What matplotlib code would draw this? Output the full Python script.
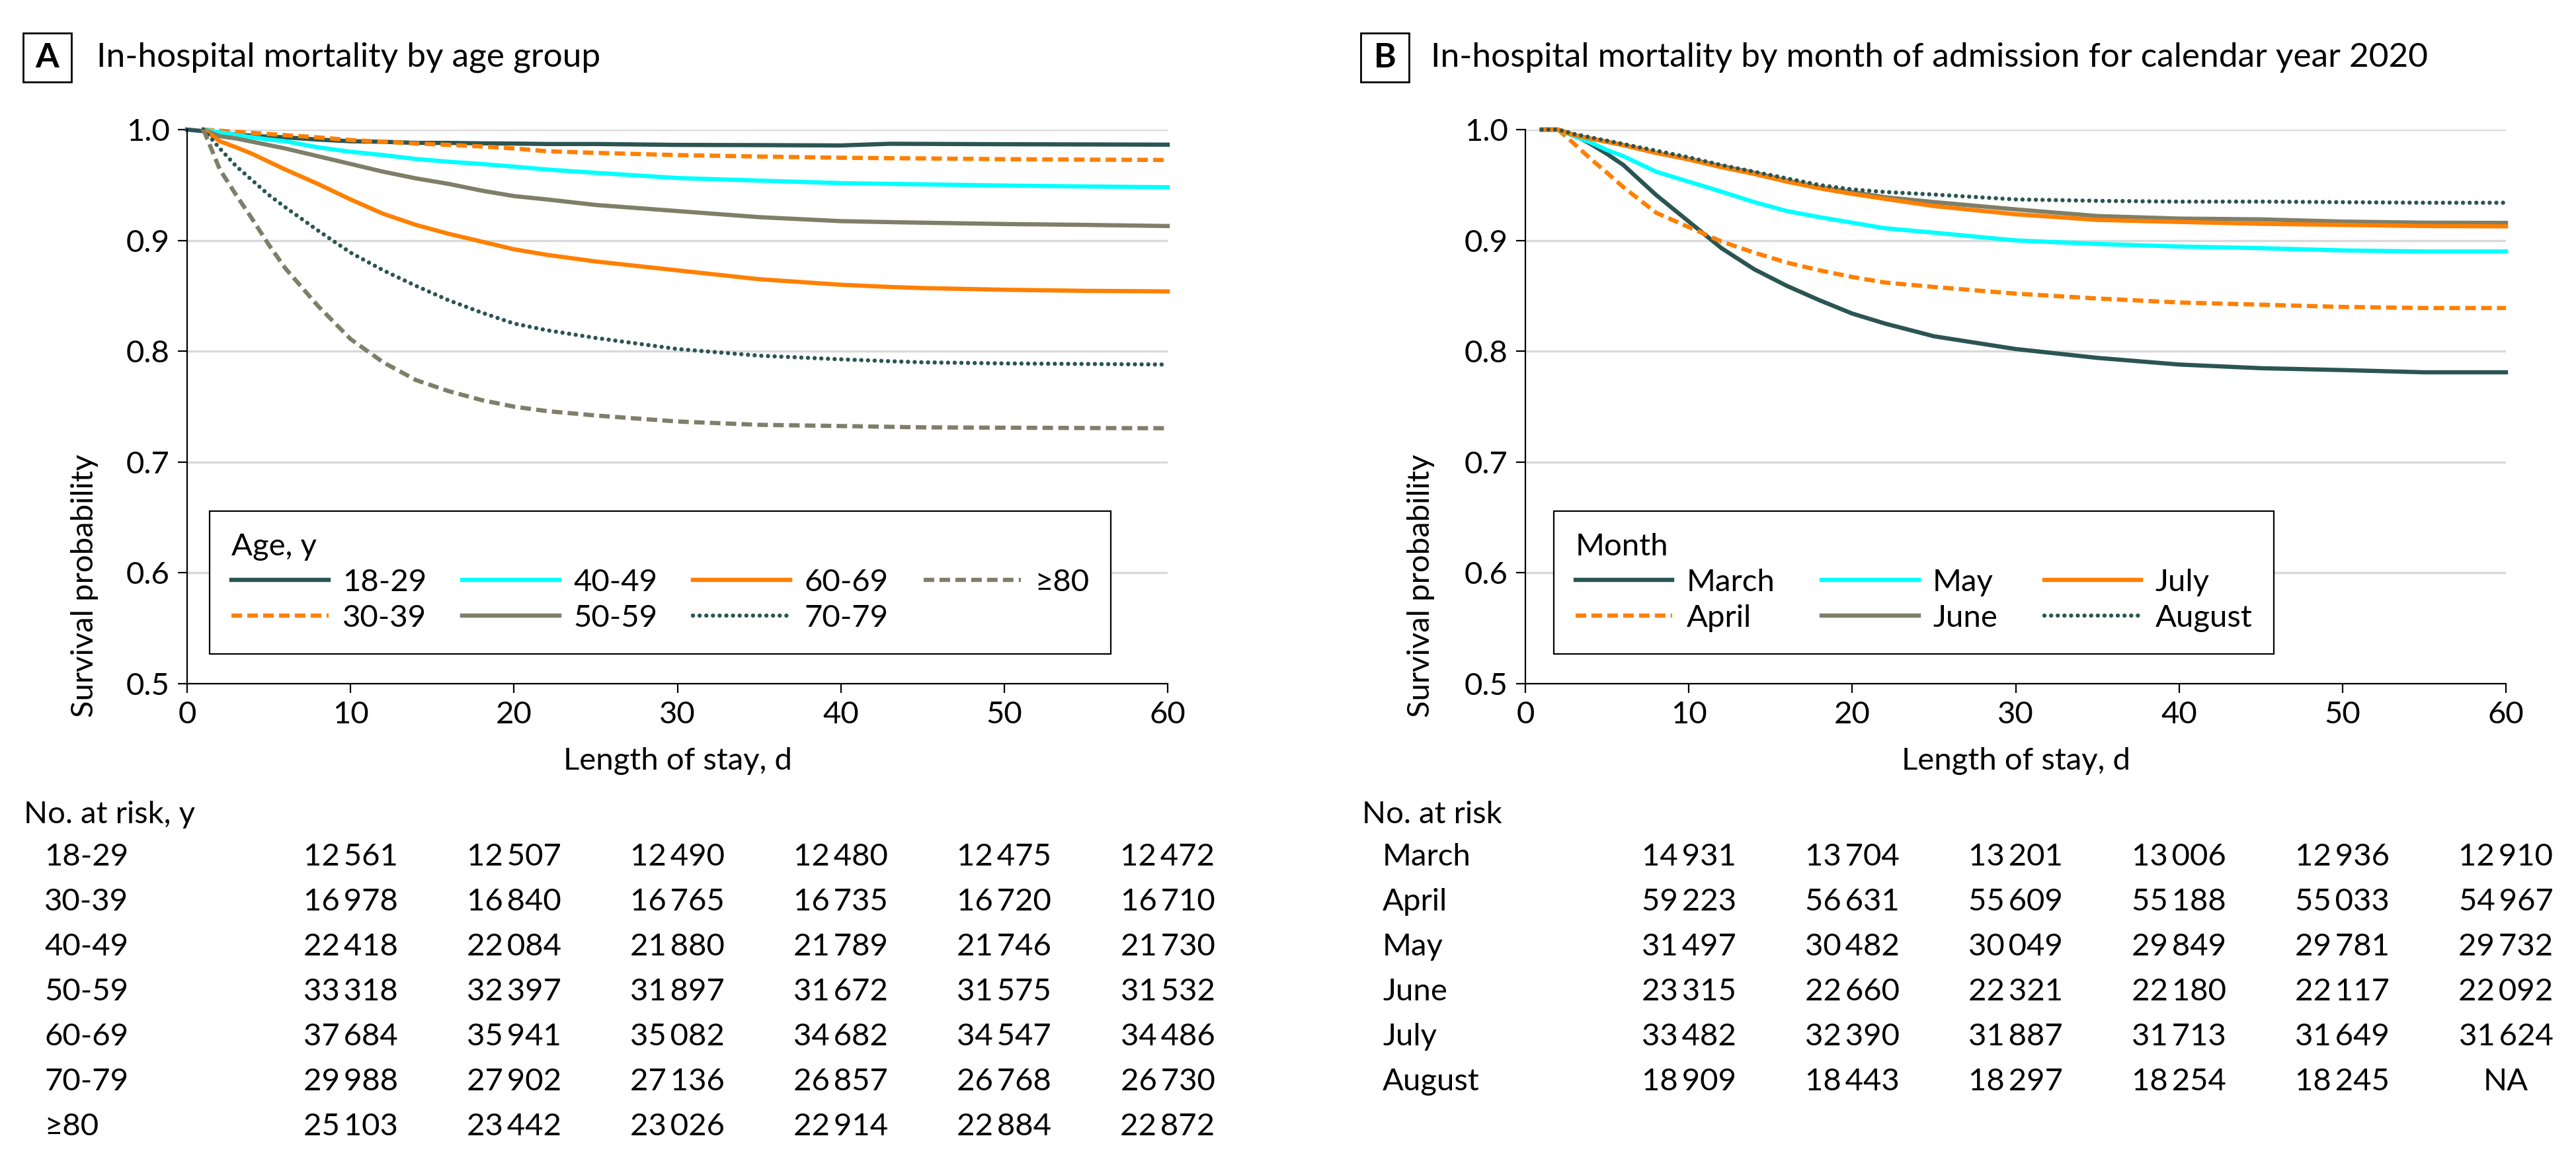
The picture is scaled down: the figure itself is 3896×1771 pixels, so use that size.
import matplotlib
matplotlib.use("Agg")
import matplotlib.pyplot as plt
import matplotlib.transforms as mtransforms
from matplotlib.patches import Rectangle
import numpy as np

plt.rcParams['font.family'] = ['Lato', 'DejaVu Sans']

# ---- data: panel A, survival by age group ----
days_a = [0, 1, 2, 3, 4, 5, 6, 8, 10, 12, 14, 16, 18, 20, 22, 25, 30, 35, 40, 43, 45, 50, 55, 60]
age_groups = ['18-29', '30-39', '40-49', '50-59', '60-69', '70-79', '≥80']
surv_18_29 = [1.0, 0.9986, 0.997, 0.9955, 0.9945, 0.9935, 0.993, 0.991, 0.9895, 0.989, 0.988, 0.988,
              0.9876, 0.9874, 0.987, 0.987, 0.9862, 0.986, 0.9857, 0.9872, 0.9871, 0.9868, 0.9866,
              0.9864]
surv_30_39 = [np.nan, 1.0, 0.999, 0.998, 0.997, 0.996, 0.995, 0.993, 0.9906, 0.989, 0.9875, 0.9862,
              0.9848, 0.983, 0.9805, 0.979, 0.977, 0.9757, 0.9746, 0.9742, 0.974, 0.9733, 0.9729,
              0.9726]
surv_40_49 = [np.nan, 1.0, 0.9975, 0.995, 0.993, 0.991, 0.9895, 0.984, 0.980, 0.977, 0.9735, 0.971,
              0.969, 0.9666, 0.964, 0.961, 0.9563, 0.954, 0.9517, 0.951, 0.9506, 0.9495, 0.9487,
              0.948]
surv_50_59 = [np.nan, 1.0, 0.994, 0.992, 0.989, 0.986, 0.983, 0.976, 0.969, 0.962, 0.956, 0.951,
              0.945, 0.940, 0.937, 0.932, 0.9265, 0.921, 0.9174, 0.9165, 0.916, 0.9148, 0.914,
              0.913]
surv_60_69 = [np.nan, 1.0, 0.9895, 0.984, 0.978, 0.971, 0.964, 0.951, 0.937, 0.924, 0.914, 0.906,
              0.899, 0.892, 0.887, 0.881, 0.873, 0.865, 0.860, 0.858, 0.857, 0.8555, 0.8545, 0.854]
surv_70_79 = [np.nan, 1.0, 0.983, 0.967, 0.954, 0.941, 0.930, 0.909, 0.889, 0.873, 0.859, 0.846,
              0.835, 0.825, 0.819, 0.812, 0.802, 0.796, 0.7927, 0.791, 0.790, 0.789, 0.7885, 0.788]
surv_80 = [np.nan, 1.0, 0.964, 0.941, 0.919, 0.896, 0.875, 0.841, 0.811, 0.790, 0.774, 0.764,
           0.756, 0.750, 0.746, 0.742, 0.7366, 0.7336, 0.7325, 0.7318, 0.7313, 0.731, 0.7307,
           0.7305]

# ---- data: panel B, survival by month of admission ----
days_b = [1, 2, 3, 4, 5, 6, 8, 10, 12, 14, 16, 18, 20, 22, 25, 30, 35, 40, 45, 50, 55, 60]
months = ['March', 'April', 'May', 'June', 'July', 'August']
surv_march = [1.0, 1.0, 0.995, 0.987, 0.978, 0.968, 0.941, 0.917, 0.893, 0.874, 0.859, 0.846,
              0.834, 0.825, 0.8135, 0.802, 0.794, 0.788, 0.7847, 0.783, 0.781, 0.781]
surv_april = [1.0, 1.0, 0.987, 0.9735, 0.961, 0.948, 0.925, 0.912, 0.899, 0.889, 0.880, 0.873,
              0.867, 0.862, 0.858, 0.852, 0.8476, 0.844, 0.842, 0.840, 0.839, 0.839]
surv_may = [1.0, 1.0, 0.994, 0.9883, 0.9815, 0.976, 0.962, 0.953, 0.944, 0.9346, 0.9265, 0.921,
            0.916, 0.911, 0.907, 0.900, 0.8968, 0.8945, 0.893, 0.891, 0.890, 0.890]
surv_june = [1.0, 1.0, 0.995, 0.9918, 0.989, 0.986, 0.979, 0.9735, 0.967, 0.961, 0.954, 0.948,
             0.9437, 0.939, 0.9346, 0.928, 0.922, 0.9197, 0.919, 0.917, 0.916, 0.9158]
surv_july = [1.0, 1.0, 0.995, 0.9918, 0.989, 0.986, 0.979, 0.973, 0.966, 0.960, 0.953, 0.947,
             0.942, 0.9375, 0.931, 0.9236, 0.9185, 0.9167, 0.915, 0.914, 0.913, 0.9127]
surv_august = [1.0, 1.0, 0.996, 0.993, 0.990, 0.987, 0.981, 0.975, 0.968, 0.962, 0.956, 0.950,
               0.946, 0.9437, 0.9414, 0.937, 0.9357, 0.935, 0.935, 0.9345, 0.934, 0.934]

# ---- number at risk tables ----
risk_days = [10, 20, 30, 40, 50, 60]
risk_18_29 = [12561, 12507, 12490, 12480, 12475, 12472]
risk_30_39 = [16978, 16840, 16765, 16735, 16720, 16710]
risk_40_49 = [22418, 22084, 21880, 21789, 21746, 21730]
risk_50_59 = [33318, 32397, 31897, 31672, 31575, 31532]
risk_60_69 = [37684, 35941, 35082, 34682, 34547, 34486]
risk_70_79 = [29988, 27902, 27136, 26857, 26768, 26730]
risk_80 = [25103, 23442, 23026, 22914, 22884, 22872]

risk_march = [14931, 13704, 13201, 13006, 12936, 12910]
risk_april = [59223, 56631, 55609, 55188, 55033, 54967]
risk_may = [31497, 30482, 30049, 29849, 29781, 29732]
risk_june = [23315, 22660, 22321, 22180, 22117, 22092]
risk_july = [33482, 32390, 31887, 31713, 31649, 31624]
risk_august = [18909, 18443, 18297, 18254, 18245, None]

# colours
DARK = '#2b5552'
ORANGE = '#ff8000'
CYAN = '#00ffff'
GREY = '#7f7f69'
GRID = '#d9d9d9'

LW = 2.3
SOLID = '-'
DASHED = (0, (2.5, 1.25))
DOTTED = (0, (0.01, 1.57))

styles_a = [(DARK, SOLID), (ORANGE, DASHED), (CYAN, SOLID), (GREY, SOLID),
            (ORANGE, SOLID), (DARK, DOTTED), (GREY, DASHED)]
styles_b = [(DARK, SOLID), (ORANGE, DASHED), (CYAN, SOLID), (GREY, SOLID),
            (ORANGE, SOLID), (DARK, DOTTED)]

W, H = 3896, 1771
DPI = 200
FS = 17

fig = plt.figure(figsize=(W / DPI, H / DPI), dpi=DPI)


def fx(px):
    return px / W


def fy(py):
    return 1 - py / H


def fmt(n):
    if n is None:
        return 'NA'
    return f"{n:,}".replace(",", "\u2009")


def panel(left_px, letter, title, box_x, text_x, days, series, names, styles,
          legend_title, leg_left, ncol, colspace, risk_rows, risk_head,
          head_x, row_x, ylab_x):
    ax = fig.add_axes([fx(left_px), fy(1034), 1483 / W, 838 / H])
    for vals, name, (c, ls) in zip(series, names, styles):
        ax.plot(days, vals, color=c, linestyle=ls, lw=LW, label=name, clip_on=False,
                dash_capstyle='round' if ls == DOTTED else 'butt', solid_joinstyle='round')
    ax.set_xlim(0, 60)
    ax.set_ylim(0.5, 1.0)
    ax.set_xticks(range(0, 61, 10))
    ax.set_yticks([0.5, 0.6, 0.7, 0.8, 0.9, 1.0])
    ax.set_yticklabels(['0.5', '0.6', '0.7', '0.8', '0.9', '1.0'])
    ax.spines['top'].set_visible(False)
    ax.spines['right'].set_visible(False)
    for s in ('left', 'bottom'):
        ax.spines[s].set_linewidth(0.8)
    ax.tick_params(direction='out', length=5, width=0.8, labelsize=FS, pad=4.5)
    ax.yaxis.grid(True, color=GRID, lw=1.2)
    ax.set_axisbelow(True)
    ax.set_xlabel('Length of stay, d', fontsize=FS, labelpad=10)
    ax.set_ylabel('Survival probability', fontsize=FS)
    ax.yaxis.set_label_coords(fx(ylab_x), 0.5, transform=fig.transFigure)

    leg = ax.legend(loc='lower left', bbox_to_anchor=(leg_left, 0.054),
                    ncol=ncol, title=legend_title, fontsize=FS, title_fontsize=FS,
                    alignment='left', frameon=True, fancybox=False, edgecolor='black',
                    framealpha=1, borderaxespad=0, borderpad=0.7, handlelength=3.1,
                    handletextpad=0.45, labelspacing=0.25, columnspacing=colspace)
    leg.get_frame().set_linewidth(0.8)

    # panel letter box and title
    fig.add_artist(Rectangle((fx(box_x), fy(124)), 73 / W, 74 / H, transform=fig.transFigure,
                             fill=False, ec='black', lw=1.0))
    fig.text(fx(box_x + 36.5), fy(87), letter, ha='center', va='center', fontsize=FS + 1.5,
             fontweight='bold')
    fig.text(fx(text_x), fy(87), title, ha='left', va='center', fontsize=FS + 1.5)

    # number at risk table
    tr = mtransforms.blended_transform_factory(ax.transData, fig.transFigure)
    fig.text(fx(head_x), fy(1232), risk_head, ha='left', va='center', fontsize=FS)
    for i, (name, row) in enumerate(zip(names, risk_rows)):
        y = fy(1296 + 68 * i)
        fig.text(fx(row_x), y, name, ha='left', va='center', fontsize=FS)
        for d, n in zip(risk_days, row):
            ax.text(d, y, fmt(n), transform=tr, ha='center', va='center', fontsize=FS)
    return ax


panel(283, 'A', 'In-hospital mortality by age group', 35, 146, days_a,
      [surv_18_29, surv_30_39, surv_40_49, surv_50_59, surv_60_69, surv_70_79, surv_80],
      age_groups, styles_a, 'Age, y', 0.023, 4, 1.15,
      [risk_18_29, risk_30_39, risk_40_49, risk_50_59, risk_60_69, risk_70_79, risk_80],
      'No. at risk, y', 36, 67, 149)

panel(2307, 'B', 'In-hospital mortality by month of admission for calendar year 2020', 2058, 2164,
      days_b,
      [surv_march, surv_april, surv_may, surv_june, surv_july, surv_august],
      months, styles_b, 'Month', 0.029, 3, 1.5,
      [risk_march, risk_april, risk_may, risk_june, risk_july, risk_august],
      'No. at risk', 2060, 2091, 2170)

fig.savefig('out.png', dpi=DPI)
